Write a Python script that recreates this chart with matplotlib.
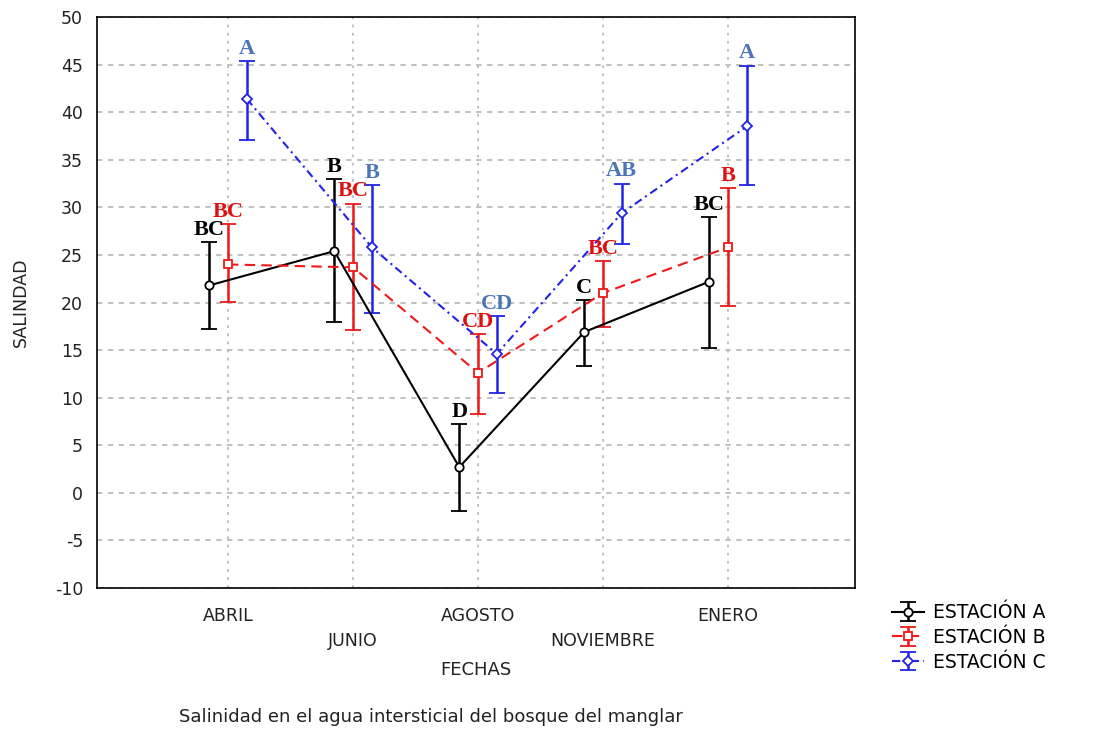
import matplotlib.pyplot as plt
import numpy as np

plt.rcParams['font.family'] = ['DejaVu Sans']
plt.rcParams['axes.unicode_minus'] = False

# Datos
fechas = ["ABRIL", "JUNIO", "AGOSTO", "NOVIEMBRE", "ENERO"]
estaciones = ["ESTACIÓN A", "ESTACIÓN B", "ESTACIÓN C"]

media_a = [21.8, 25.4, 2.7, 16.9, 22.2]
inf_a = [17.2, 18.0, -1.9, 13.3, 15.2]
sup_a = [26.4, 33.0, 7.2, 20.3, 29.0]

media_b = [24.0, 23.7, 12.6, 21.0, 25.8]
inf_b = [20.1, 17.1, 8.3, 17.4, 19.6]
sup_b = [28.2, 30.4, 16.7, 24.4, 32.0]

media_c = [41.4, 25.8, 14.6, 29.4, 38.5]
inf_c = [37.1, 18.9, 10.5, 26.2, 32.4]
sup_c = [45.4, 32.3, 18.6, 32.5, 44.9]

letras_a = ["BC", "B", "D", "C", "BC"]
letras_b = ["BC", "BC", "CD", "BC", "B"]
letras_c = ["A", "B", "CD", "AB", "A"]

fig = plt.figure(figsize=(10.99, 7.31), dpi=100)
ax = fig.add_axes([0.0883, 0.1956, 0.6897, 0.7811])

x = np.arange(len(fechas))
series = [
    (media_a, inf_a, sup_a, letras_a, -0.15, 'black', '-', 'o', 'black'),
    (media_b, inf_b, sup_b, letras_b, 0.0, '#f01818', (0, (5, 3)), 's', '#e01010'),
    (media_c, inf_c, sup_c, letras_c, 0.15, '#2222e8', (0, (4, 2, 1, 2)), 'D', '#4a76b8'),
]

handles = []
for (m, lo, hi, letras, dx, col, ls, mk, col_txt), nombre in zip(series, estaciones):
    m = np.array(m)
    err = [m - np.array(lo), np.array(hi) - m]
    xs = x + dx
    h = ax.errorbar(xs, m, yerr=err, color=col, linestyle=ls, linewidth=1.5,
                    marker=mk, markersize=6 if mk != 'D' else 5,
                    markerfacecolor='white', markeredgecolor=col, markeredgewidth=1.3,
                    ecolor=col, elinewidth=1.8, capsize=6, capthick=1.8, label=nombre)
    handles.append(h)
    for xi, top, txt in zip(xs, hi, letras):
        ax.annotate(txt, (xi, top), xytext=(0, 1.5), textcoords='offset points',
                    ha='center', va='bottom', color=col_txt, fontsize=16,
                    fontweight='bold', family=['Liberation Serif', 'DejaVu Serif'])

ax.set_xlim(-1.048, 5.016)
ax.set_ylim(-10, 50)
ax.set_yticks(np.arange(-10, 51, 5))
ax.set_xticks(x)
ax.set_xticklabels([f if i % 2 == 0 else "\n" + f for i, f in enumerate(fechas)],
                   linespacing=1.45)
ax.tick_params(axis='both', length=0, labelsize=12.5, colors='#222222')
ax.tick_params(axis='y', pad=10)
ax.tick_params(axis='x', pad=14)

ax.grid(axis='y', color='#bbbbbb', linestyle=(0, (3, 3)), linewidth=1.3)
ax.grid(axis='x', color='#bbbbbb', linestyle=(0, (1.5, 3)), linewidth=1.3)
ax.set_axisbelow(True)
for s in ax.spines.values():
    s.set_color('black')
    s.set_linewidth(1.2)

ax.set_xlabel("FECHAS", fontsize=13, color='#222222', labelpad=8)
ax.set_ylabel("SALINDAD", fontsize=12.5, color='#222222', labelpad=18)

fig.legend(handles=handles, loc='upper left', bbox_to_anchor=(0.805, 0.185),
           frameon=False, fontsize=13.5, handlelength=1.7, handletextpad=0.5,
           labelspacing=0.3, borderaxespad=0)

fig.text(0.392, 0.019, "Salinidad en el agua intersticial del bosque del manglar",
         ha='center', va='center', fontsize=13, color='#222222')

fig.savefig("out.png", dpi=100)
